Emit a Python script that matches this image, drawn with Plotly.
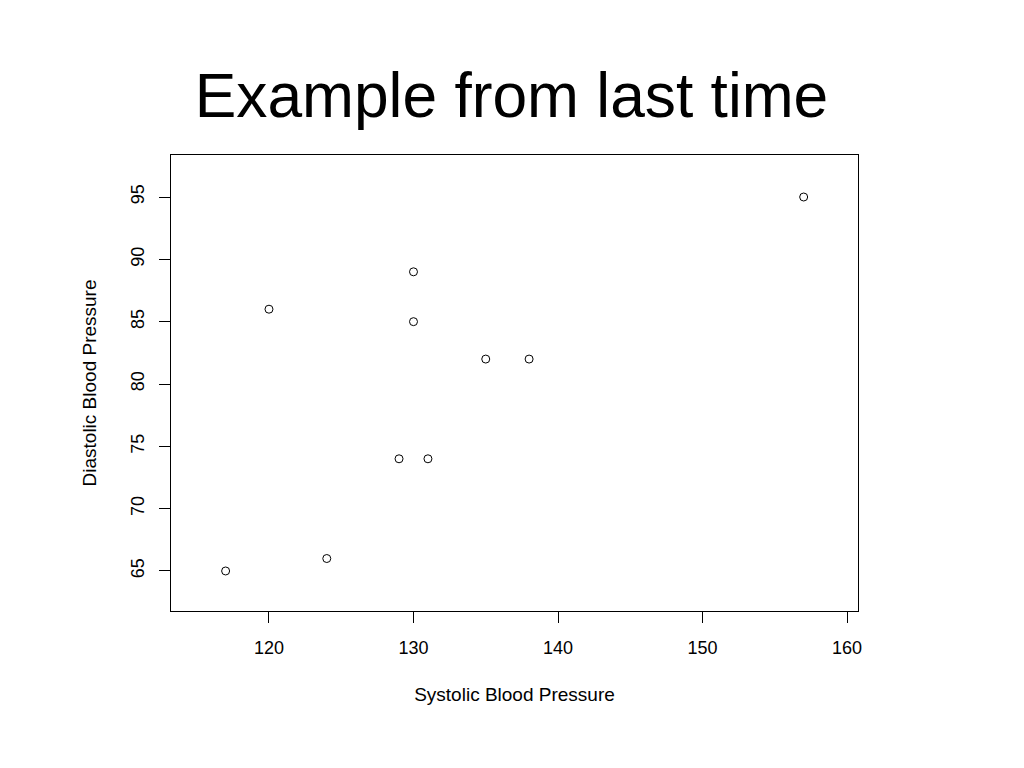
import plotly.graph_objects as go

systolic = [117, 120, 124, 129, 130, 130, 131, 135, 138, 157]
diastolic = [65, 86, 66, 74, 89, 85, 74, 82, 82, 95]
x_ticks = [120, 130, 140, 150, 160]
y_ticks = [65, 70, 75, 80, 85, 90, 95]

FONT = "Liberation Sans, Arial, sans-serif"

fig = go.Figure(go.Scatter(
    x=systolic, y=diastolic, mode="markers",
    marker=dict(symbol="circle-open", size=8, color="black", line=dict(width=1, color="black")),
    showlegend=False,
))

fig.update_layout(
    width=1024, height=768,
    paper_bgcolor="white", plot_bgcolor="white",
    margin=dict(l=163, r=174, t=147, b=165, autoexpand=False),
    title=dict(text="Example from last time", x=0.4917, xanchor="center", y=0.8867, yanchor="middle",
               font=dict(family=FONT, size=62.3, color="black")),
    font=dict(family=FONT, color="black"),
)
fig.update_xaxes(
    range=[113.22, 160.76], tickvals=x_ticks, ticks="outside", ticklen=11, tickwidth=1, tickcolor="black",
    showline=True, linecolor="black", linewidth=1, mirror=True, showgrid=False, zeroline=False,
    tickfont=dict(size=18, family=FONT, color="black"), ticklabelstandoff=9,
    title=dict(text="Systolic Blood Pressure", font=dict(size=19, family=FONT, color="black"), standoff=31),
)
fig.update_yaxes(
    range=[61.79, 98.37], tickvals=y_ticks, ticks="outside", ticklen=11, tickwidth=1, tickcolor="black",
    showline=True, linecolor="black", linewidth=1, mirror=True, showgrid=False, zeroline=False,
    tickangle=-90, tickfont=dict(size=18, family=FONT, color="black"), ticklabelstandoff=8,
    title=dict(text="Diastolic Blood Pressure", font=dict(size=19, family=FONT, color="black"), standoff=26),
)

fig.write_html("out.html")
